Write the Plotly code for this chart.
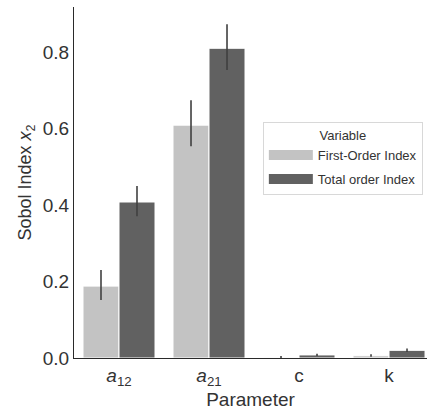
import plotly.graph_objects as go

# Sobol sensitivity indices for output x2
parameters = ["<i>a</i><sub>12</sub>", "<i>a</i><sub>21</sub>", "c", "k"]

first_order = [0.188, 0.609, 0.001, 0.006]
first_order_lo = [0.152, 0.554, 0.000, 0.003]
first_order_hi = [0.230, 0.674, 0.005, 0.010]

total_order = [0.408, 0.810, 0.008, 0.020]
total_order_lo = [0.371, 0.753, 0.005, 0.016]
total_order_hi = [0.450, 0.873, 0.011, 0.025]

series = [
    ("First-Order Index", first_order, first_order_lo, first_order_hi, "#c3c3c3"),
    ("Total order Index", total_order, total_order_lo, total_order_hi, "#616161"),
]

fig = go.Figure()
for name, vals, lo, hi, color in series:
    fig.add_trace(go.Bar(
        x=parameters, y=vals, name=name, showlegend=False,
        marker=dict(color=color, line=dict(width=1, color="white")),
        error_y=dict(
            type="data", symmetric=False,
            array=[h - v for h, v in zip(hi, vals)],
            arrayminus=[v - l for v, l in zip(vals, lo)],
            color="#404040", thickness=1.6, width=0,
        ),
    ))

# wide swatches for the legend
for name, vals, lo, hi, color in series:
    fig.add_trace(go.Scatter(
        x=[None], y=[None], mode="lines", name=name, legendgroup=name,
        line=dict(color=color, width=12),
    ))

font = "Liberation Sans, Arial, sans-serif"
fig.update_layout(
    width=427, height=412,
    margin=dict(l=74, r=0, t=7, b=54),
    paper_bgcolor="white", plot_bgcolor="white",
    barmode="group", bargap=0.2, bargroupgap=0.0,
    font=dict(family=font, color="#333333", size=19),
    xaxis=dict(
        range=[-0.5, 3.422], showline=True, linecolor="#2a2a2a", linewidth=1.2,
        ticks="", showgrid=False, zeroline=False,
        title=dict(text="Parameter", font=dict(size=19), standoff=0),
        tickfont=dict(size=19),
    ),
    yaxis=dict(
        range=[0, 0.918], showline=True, linecolor="#2a2a2a", linewidth=1.2,
        ticks="", showgrid=False, zeroline=False,
        tickvals=[0, 0.2, 0.4, 0.6, 0.8], tickformat=".1f",
        title=dict(text="Sobol Index <i>x</i><sub>2</sub>", font=dict(size=18), standoff=6),
        tickfont=dict(size=19),
    ),
    legend=dict(
        x=0.535, y=0.672, xanchor="left", yanchor="top",
        bgcolor="white", bordercolor="#d8d8d8", borderwidth=1,
        font=dict(size=13, color="#333333"),
        title=dict(text="Variable", side="top center", font=dict(size=13)),
        itemwidth=44, tracegroupgap=4,
    ),
)

fig.write_html("out.html")
